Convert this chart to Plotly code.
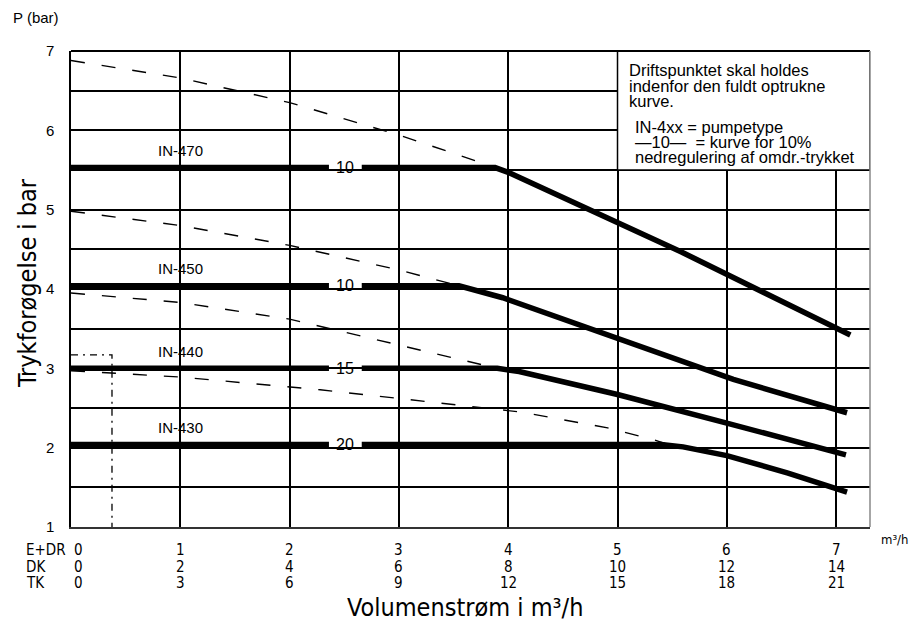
import plotly.graph_objects as go

# ---------------- data ----------------
x_max = 7.31
y_ticks = [1, 2, 3, 4, 5, 6, 7]

row_names = ["E+DR", "DK", "TK"]
edr_vals = [0, 1, 2, 3, 4, 5, 6, 7]
dk_vals = [0, 2, 4, 6, 8, 10, 12, 14]
tk_vals = [0, 3, 6, 9, 12, 15, 18, 21]

pump_names = ["IN-470", "IN-450", "IN-440", "IN-430"]
reduction_labels = ["10", "10", "15", "20"]

# full pump curves (flow m3/h, pressure bar)
in470_x = [0, 3.88, 4.0, 5.58, 7.13]
in470_y = [5.53, 5.53, 5.47, 4.47, 3.42]
in450_x = [0, 3.55, 3.95, 6.06, 7.10]
in450_y = [4.04, 4.04, 3.89, 2.86, 2.44]
in440_x = [0, 3.90, 4.10, 5.0, 6.0, 7.09]
in440_y = [3.00, 3.00, 2.96, 2.67, 2.31, 1.91]
in430_x = [0, 5.40, 5.60, 5.76, 6.0, 6.56, 7.10]
in430_y = [2.04, 2.04, 2.01, 1.96, 1.90, 1.68, 1.44]

# dashed curves (unregulated)
d470_x = [0, 1, 2, 3, 3.5, 3.88]
d470_y = [6.88, 6.66, 6.35, 5.94, 5.71, 5.53]
d450_x = [0, 1, 2, 3, 3.55]
d450_y = [4.98, 4.80, 4.55, 4.24, 4.04]
d440_x = [0, 1, 2, 2.46, 3, 3.9]
d440_y = [3.95, 3.83, 3.62, 3.47, 3.30, 3.00]
d430_x = [0, 1, 2.28, 3, 4.11, 4.91, 5.33, 5.46]
d430_y = [2.97, 2.89, 2.73, 2.62, 2.45, 2.25, 2.10, 2.04]

# dash-dot marker
dd_x = [0, 0.375, 0.375]
dd_y = [3.17, 3.17, 1.0]

label_gap = (2.36, 2.66)   # gap in flat part for reduction label
label_x = 2.51

box_lines_a = ["Driftspunktet skal holdes", "indenfor den fuldt optrukne", "kurve."]
box_lines_b = ["IN-4xx = pumpetype", "\u201410\u2014  = kurve for 10%", "nedregulering af omdr.-trykket"]

# ---------------- figure ----------------
FONT = "Liberation Sans, Arial, sans-serif"
NARROW = "Liberation Sans Narrow, DejaVu Sans Condensed, Liberation Sans, sans-serif"

fig = go.Figure()

def with_gap(xs, ys, gap):
    a, b = gap
    flat = ys[0]
    ox = [xs[0], a, None, b] + xs[1:]
    oy = [flat, flat, None, flat] + ys[1:]
    return ox, oy

curves = [(in470_x, in470_y), (in450_x, in450_y), (in440_x, in440_y), (in430_x, in430_y)]
dashed = [(d470_x, d470_y), (d450_x, d450_y), (d440_x, d440_y), (d430_x, d430_y)]

for (dx, dy) in dashed:
    fig.add_trace(go.Scatter(x=dx, y=dy, mode="lines",
                             line=dict(color="black", width=1.4, dash="14px,17px"),
                             hoverinfo="skip", showlegend=False))

fig.add_trace(go.Scatter(x=dd_x, y=dd_y, mode="lines",
                         line=dict(color="black", width=1.3, dash="7px,5px,2px,5px"),
                         hoverinfo="skip", showlegend=False))

annotations = []
for name, red, (cx, cy) in zip(pump_names, reduction_labels, curves):
    gx, gy = with_gap(cx, cy, label_gap)
    fig.add_trace(go.Scatter(x=gx, y=gy, mode="lines", connectgaps=False,
                             line=dict(color="black", width=5.5),
                             hoverinfo="skip", showlegend=False))
    annotations.append(dict(x=1.0, y=cy[0], xref="x", yref="y", text=name,
                            showarrow=False, yshift=17,
                            font=dict(family=FONT, size=15, color="black")))
    annotations.append(dict(x=label_x, y=cy[0], xref="x", yref="y", text=red,
                            showarrow=False,
                            font=dict(family=FONT, size=16, color="black")))

# plot geometry helpers (pixels)
L, R, T, B = 71, 870, 51, 527
def px_x(p):
    return (p - L) / (R - L)
def px_y(p):
    return (B - p) / (B - T)

# info box text
box_y = [70, 86, 101]
for t, yy in zip(box_lines_a, box_y):
    annotations.append(dict(x=px_x(627), y=px_y(yy), xref="paper", yref="paper",
                            text=t, showarrow=False, xanchor="left", yanchor="middle",
                            font=dict(family=FONT, size=16.5, color="black")))
box_y2 = [127, 142, 157]
for t, yy in zip(box_lines_b, box_y2):
    annotations.append(dict(x=px_x(633), y=px_y(yy), xref="paper", yref="paper",
                            text=t, showarrow=False, xanchor="left", yanchor="middle",
                            font=dict(family=FONT, size=16.5, color="black")))

# bottom rows
row_y = [550, 567, 583]
for name, vals, yy in zip(row_names, [edr_vals, dk_vals, tk_vals], row_y):
    annotations.append(dict(x=px_x(24), y=px_y(yy), xref="paper", yref="paper",
                            text=name, showarrow=False, xanchor="left", yanchor="middle",
                            font=dict(family=NARROW, size=15, color="black")))
    for i, v in enumerate(vals):
        xv = i if i > 0 else 0.065
        annotations.append(dict(x=xv / x_max, y=px_y(yy), xref="paper", yref="paper",
                                text=str(v), showarrow=False, xanchor="center", yanchor="middle",
                                font=dict(family=NARROW, size=15, color="black")))

annotations.append(dict(x=px_x(894), y=px_y(539), xref="paper", yref="paper",
                        text="m³/h", showarrow=False, xanchor="center", yanchor="middle",
                        font=dict(family=NARROW, size=13, color="black")))
annotations.append(dict(x=px_x(36), y=px_y(17), xref="paper", yref="paper",
                        text="P (bar)", showarrow=False, xanchor="center", yanchor="middle",
                        font=dict(family=FONT, size=15, color="black")))
annotations.append(dict(x=px_x(27), y=px_y(283), xref="paper", yref="paper",
                        text="Trykforøgelse i bar", showarrow=False, textangle=-90,
                        xanchor="center", yanchor="middle",
                        font=dict(family=NARROW, size=25, color="black")))
annotations.append(dict(x=px_x(465), y=px_y(607), xref="paper", yref="paper",
                        text="Volumenstrøm i m³/h", showarrow=False,
                        xanchor="center", yanchor="middle",
                        font=dict(family=NARROW, size=25, color="black")))

shapes = [
    dict(type="rect", xref="x", yref="y", x0=5.0, x1=x_max, y0=5.5, y1=7,
         fillcolor="white", line=dict(color="black", width=1.5), layer="above"),
    dict(type="line", xref="paper", yref="paper", x0=0, x1=1, y0=1, y1=1,
         line=dict(color="black", width=2)),
    dict(type="line", xref="paper", yref="paper", x0=1, x1=1, y0=0, y1=1,
         line=dict(color="#888", width=1.5)),
]

fig.update_layout(
    width=917, height=628,
    margin=dict(l=L, r=917 - R, t=T, b=628 - B, autoexpand=False),
    paper_bgcolor="white", plot_bgcolor="white",
    showlegend=False,
    annotations=annotations,
    shapes=shapes,
    xaxis=dict(range=[0, x_max], tick0=0, dtick=1, showgrid=True,
               gridcolor="black", gridwidth=1.5, showticklabels=False,
               zeroline=False, showline=True, linecolor="#333", linewidth=1.5,
               ticks="", fixedrange=True, automargin=False),
    yaxis=dict(range=[1, 7], tickvals=y_ticks, ticktext=[str(v) for v in y_ticks],
               showgrid=True, gridcolor="black", gridwidth=1.5,
               minor=dict(dtick=0.5, tick0=1, showgrid=True, gridcolor="black", gridwidth=1.5),
               zeroline=False, showline=True, linecolor="black", linewidth=1.5,
               ticks="", ticklabelstandoff=12, automargin=False,
               tickfont=dict(family=FONT, size=15, color="black"), fixedrange=True),
)

fig.write_html("out.html", config={"displayModeBar": False},
               post_script="document.body.style.margin='0px';document.body.style.overflow='hidden';")
